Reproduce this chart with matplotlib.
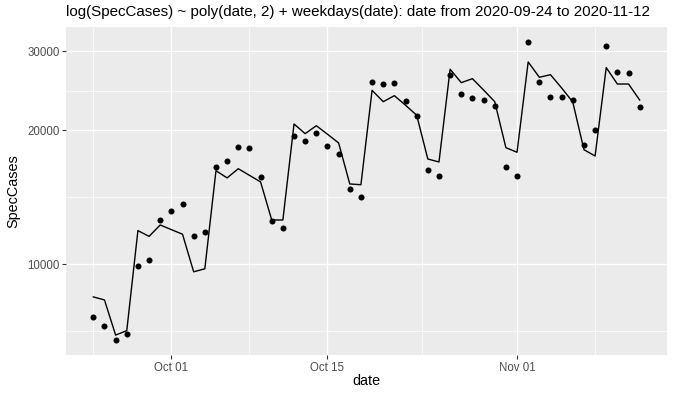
import matplotlib
matplotlib.use("Agg")
import matplotlib.pyplot as plt
import matplotlib.dates as mdates
import numpy as np
import pandas as pd

plt.rcParams['font.family'] = ['Liberation Sans', 'DejaVu Sans']

dates = pd.date_range('2020-09-24', '2020-11-12', freq='D')

spec_cases = [7630, 7260, 6755, 6980, 9910, 10240, 12550, 13190, 13670, 11550,
              11800, 16550, 17070, 18320, 18260, 15720, 12510, 12060, 19430, 18900,
              19670, 18420, 17700, 14750, 14180, 25590, 25330, 25460, 23230, 21470,
              16250, 15750, 26530, 24130, 23630, 23350, 22680, 16520, 15750, 31470,
              25590, 23680, 23720, 23320, 18490, 19980, 30910, 26980, 26810, 22490]

fitted = [8450, 8320, 6940, 7100, 11900, 11550, 12250, 11960, 11680, 9620,
          9770, 16210, 15620, 16380, 15830, 15300, 12570, 12570, 20630, 19630,
          20450, 19570, 18710, 15140, 15080, 24550, 23150, 23880, 22730, 21590,
          17220, 16960, 27370, 25540, 26070, 24590, 23150, 18260, 17830, 28420,
          26260, 26610, 24850, 23110, 18070, 17490, 27600, 25360, 25360, 23350]

y_major = [10000, 20000, 30000]
y_major_labels = ['10000', '20000', '30000']
y_minor = [7071, 14142, 24495]
x_major = ['2020-10-01 00:00', '2020-10-15 00:00', '2020-11-01 00:00']
x_minor = ['2020-09-24 00:00', '2020-10-08 00:00', '2020-10-23 12:00', '2020-11-08 00:00']

title = 'log(SpecCases) ~ poly(date, 2) + weekdays(date): date from 2020-09-24 to 2020-11-12'

W, H = 675, 396
fig = plt.figure(figsize=(W / 100, H / 100), dpi=100)
left, right, top, bottom = 66, 667, 27.3, 355.2
ax = fig.add_axes([left / W, 1 - bottom / H, (right - left) / W, (bottom - top) / H])
ax.set_facecolor('#EBEBEB')
for s in ax.spines.values():
    s.set_visible(False)

ax.set_yscale('log')
ax.plot(dates, fitted, color='black', lw=1.0, zorder=3)
ax.scatter(dates, spec_cases, s=19, color='black', zorder=4, linewidths=0)

ax.set_xlim(dates[0] - pd.Timedelta(days=2.45), dates[-1] + pd.Timedelta(days=2.45))
lo = np.log10(min(spec_cases + fitted))
hi = np.log10(max(spec_cases + fitted))
pad = (hi - lo) * 0.05
ax.set_ylim(10 ** (lo - pad), 10 ** (hi + pad))

ax.set_yticks(y_major)
ax.set_yticklabels(y_major_labels)
ax.set_yticks(y_minor, minor=True)
ax.yaxis.set_minor_formatter(matplotlib.ticker.NullFormatter())
ax.set_xticks(pd.to_datetime(x_major, format='%Y-%m-%d %H:%M'))
ax.xaxis.set_major_formatter(mdates.DateFormatter('%b %d'))
ax.set_xticks(pd.to_datetime(x_minor, format='%Y-%m-%d %H:%M'), minor=True)
ax.xaxis.set_minor_formatter(matplotlib.ticker.NullFormatter())

ax.grid(which='major', color='white', lw=1.0)
ax.grid(which='minor', color='white', lw=0.5)
ax.set_axisbelow(True)

ax.tick_params(which='major', length=2.6, width=0.8, color='#333333',
               labelcolor='#4D4D4D', labelsize=8.3, pad=2.0)
ax.tick_params(which='minor', length=0)

fig.text(left / W, 1 - 12 / H, title, ha='left', va='center', fontsize=10.9, color='black')
fig.text((left + right) / 2 / W, 1 - 381 / H, 'date', ha='center', va='center', fontsize=10.4)
fig.text(13 / W, 1 - 191.5 / H, 'SpecCases', ha='center', va='center', rotation=90, fontsize=10.4)

fig.savefig('out.png', dpi=100, facecolor='white')
